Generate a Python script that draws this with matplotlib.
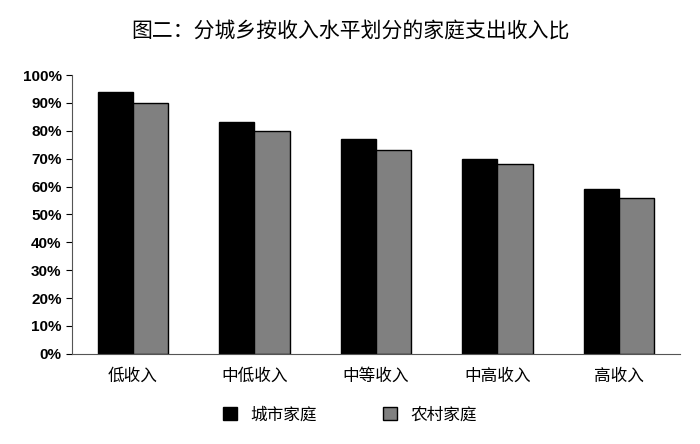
import matplotlib
matplotlib.use("Agg")
import matplotlib.pyplot as plt
import numpy as np

plt.rcParams['font.family'] = ['Noto Sans CJK SC', 'DejaVu Sans']

categories = ["低收入", "中低收入", "中等收入", "中高收入", "高收入"]
urban = [94, 83, 77, 70, 59]
rural = [90, 80, 73, 68, 56]
series_names = ["城市家庭", "农村家庭"]
yticks = [0, 10, 20, 30, 40, 50, 60, 70, 80, 90, 100]

fig = plt.figure(figsize=(7, 4.44), dpi=100)
ax = fig.add_axes([0.103, 0.203, 0.868, 0.628])
x = np.arange(len(categories))
w = 0.29
ax.bar(x - w/2, urban, w, color="black", edgecolor="black", linewidth=1, label=series_names[0])
ax.bar(x + w/2, rural, w, color="#808080", edgecolor="black", linewidth=1, label=series_names[1])
ax.set_xlim(-0.5, len(categories) - 0.5)
ax.set_ylim(0, 100)
ax.set_yticks(yticks)
ax.set_yticklabels([f"{v}%" for v in yticks], fontweight="bold", fontsize=11, family=["Liberation Sans", "DejaVu Sans"])
ax.set_xticks(x)
ax.set_xticklabels(categories, fontsize=12)
ax.tick_params(axis="x", length=0, pad=10)
ax.tick_params(axis="y", length=4)
ax.spines["top"].set_visible(False)
ax.spines["right"].set_visible(False)
ax.spines["left"].set_color("#555555")
ax.spines["bottom"].set_color("#555555")
fig.suptitle("图二：分城乡按收入水平划分的家庭支出收入比", y=0.955, fontsize=15)
fig.legend(loc="center", bbox_to_anchor=(0.5, 0.065), ncol=2, frameon=False,
           fontsize=12, handlelength=0.8, handleheight=0.8, columnspacing=4)
fig.savefig("out.png", dpi=100)
